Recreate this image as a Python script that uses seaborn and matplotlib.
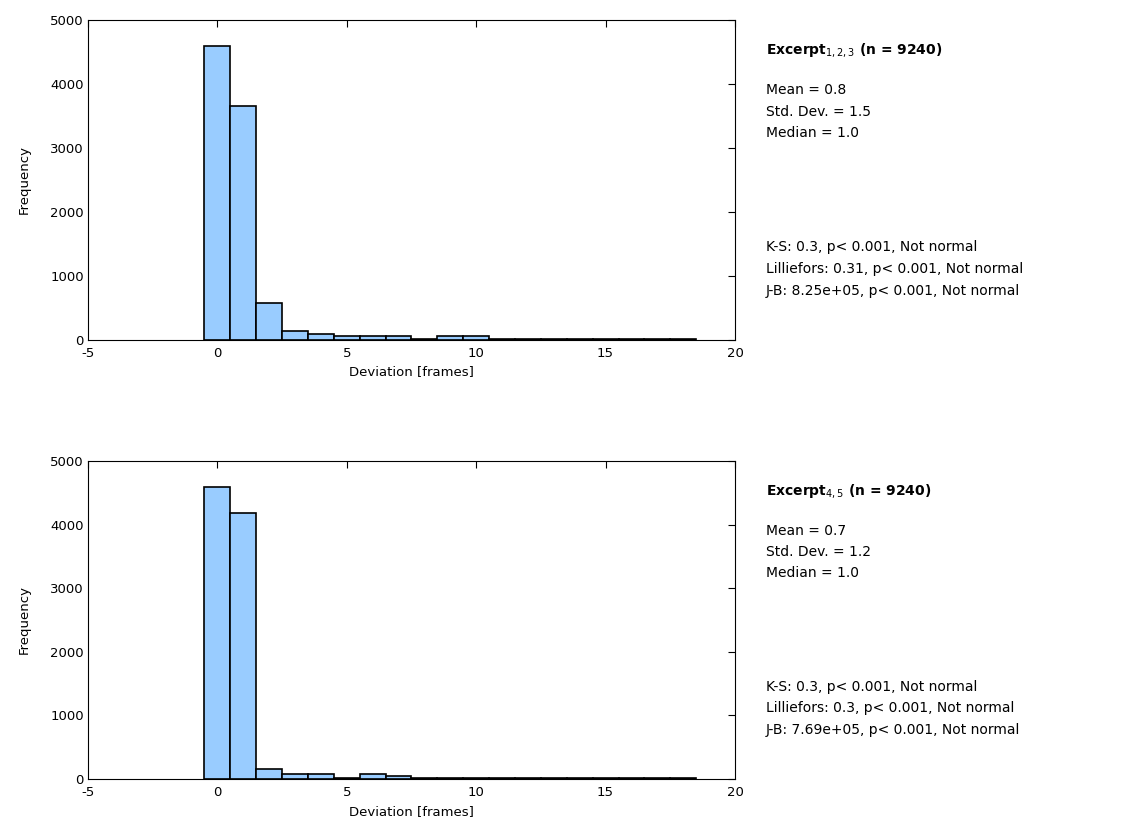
import numpy as np
import pandas as pd
import matplotlib
matplotlib.use("Agg")
import matplotlib.pyplot as plt
import seaborn as sns

sns.set_style("white")
plt.rcParams['font.family'] = ['DejaVu Sans']
plt.rcParams['axes.unicode_minus'] = False
plt.rcParams['text.color'] = 'black'
plt.rcParams['axes.labelcolor'] = 'black'
plt.rcParams['xtick.color'] = 'black'
plt.rcParams['ytick.color'] = 'black'

# bin centres (frames) and counts
centers = list(range(0, 19))
counts_top = [4600, 3660, 580, 140, 85, 60, 60, 55, 15, 55, 55, 20, 20, 20, 20, 20, 20, 20, 20]
counts_bot = [4585, 4185, 160, 75, 75, 12, 80, 52, 15, 15, 15, 15, 15, 15, 15, 15, 15, 15, 15]

stats_top = ["Mean = 0.8", "Std. Dev. = 1.5", "Median = 1.0"]
tests_top = ["K-S: 0.3, p< 0.001, Not normal",
             "Lilliefors: 0.31, p< 0.001, Not normal",
             "J-B: 8.25e+05, p< 0.001, Not normal"]
stats_bot = ["Mean = 0.7", "Std. Dev. = 1.2", "Median = 1.0"]
tests_bot = ["K-S: 0.3, p< 0.001, Not normal",
             "Lilliefors: 0.3, p< 0.001, Not normal",
             "J-B: 7.69e+05, p< 0.001, Not normal"]
title_top = "Excerpt$_{1,2,3}$ (n = 9240)"
title_bot = "Excerpt$_{4,5}$ (n = 9240)"

fig = plt.figure(figsize=(11.43, 8.35), dpi=100)
ax1 = fig.add_axes([0.077, 0.593, 0.566, 0.383])
ax2 = fig.add_axes([0.077, 0.067, 0.566, 0.381])

bin_edges = [float(e) for e in np.arange(-0.5, 19.5, 1)]
for ax, counts, title, stats, tests in [(ax1, counts_top, title_top, stats_top, tests_top),
                                         (ax2, counts_bot, title_bot, stats_bot, tests_bot)]:
    df = pd.DataFrame({"dev": centers, "w": counts})
    sns.histplot(data=df, x="dev", weights="w", bins=bin_edges, ax=ax, color="#99CCFF",
                 edgecolor="black", linewidth=1.2, alpha=1.0)
    ax.set_xlim(-5, 20)
    ax.set_ylim(0, 5000)
    ax.set_xticks([-5, 0, 5, 10, 15, 20])
    ax.set_yticks([0, 1000, 2000, 3000, 4000, 5000])
    ax.tick_params(direction="in", top=True, right=True, labelsize=9.5, length=5, width=0.8)
    ax.tick_params(axis="x", pad=5)
    ax.tick_params(axis="y", pad=3)
    ax.set_xlabel("Deviation [frames]", fontsize=9.5, labelpad=4)
    ax.set_ylabel("Frequency", fontsize=9.5, labelpad=14)
    for s in ax.spines.values():
        s.set_color("black")
        s.set_linewidth(0.8)
    ax.text(1.048, 0.905, title, transform=ax.transAxes, fontsize=10, fontweight="bold",
            va="center", ha="left")
    for i, s in enumerate(stats):
        ax.text(1.048, 0.78 - i * 0.066, s, transform=ax.transAxes, fontsize=10,
                va="center", ha="left")
    for i, s in enumerate(tests):
        ax.text(1.048, 0.29 - i * 0.068, s, transform=ax.transAxes, fontsize=10,
                va="center", ha="left")

fig.savefig("out.png", dpi=100)
